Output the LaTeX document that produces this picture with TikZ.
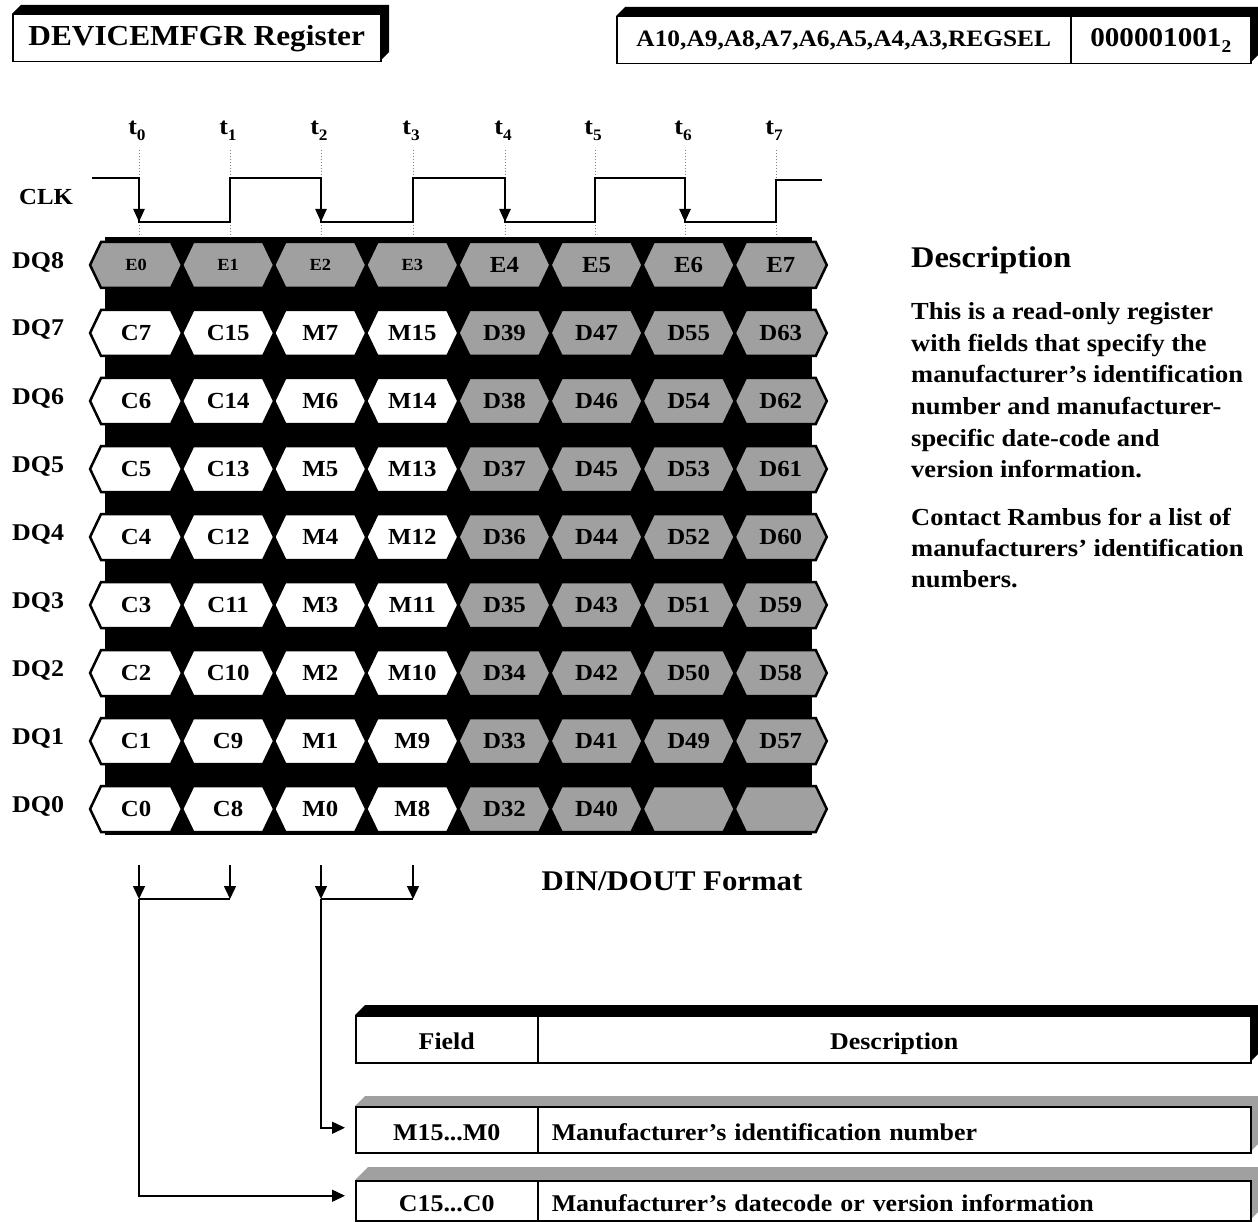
\documentclass[tikz,border=0pt]{standalone}
\usepackage{fontspec}
\setmainfont{Liberation Serif}[FakeStretch=1.08]
\usetikzlibrary{arrows.meta}
\definecolor{cellgray}{RGB}{160,160,160}
\tikzset{
  every node/.style={inner sep=0pt, font=\bfseries},
  fs/.style={font=\bfseries\fontsize{#1}{#1}\selectfont},
  box/.style={draw=black, line width=1.5pt, fill=white, anchor=north west},
  tabtext/.style={text height=22pt, text depth=1pt},
  cellborder/.style={draw=black, line width=2.5pt},
  clkline/.style={line width=2.4pt},
  clkarr/.style={line width=2.4pt, -{Triangle[width=11pt,length=13pt]}},
  arr/.style={line width=1.5pt, -{Triangle[width=12pt,length=13pt]}},
  plain/.style={line width=1.5pt},
  tick/.style={dotted, line width=1pt, gray}
}
\newcommand\slab[6]{\fill[#6] (#1,#2) -- (#1+#5,#2-#5) -- (#3+#5,#2-#5) -- (#3+#5,#4-#5) -- (#3,#4) -- (#3,#2) -- cycle;}
\begin{document}
\begin{tikzpicture}[x=1pt,y=-1pt]
\useasboundingbox[fill=white] (0,0) rectangle (1258,1222);

% ---------- header boxes
\slab{12}{14}{380}{61}{9}{black}
\node[box, minimum width=368pt, minimum height=47pt, fs=29] (title) at (12,14) {DEVICEMFGR Register};
\slab{616}{16}{1250}{63}{9}{black}
\node[box, minimum width=454pt, minimum height=47pt, fs=23.5] (addr) at (616,16) {A10,A9,A8,A7,A6,A5,A4,A3,REGSEL};
\node[box, minimum width=180pt, minimum height=47pt, fs=27] (val) at (1070,16) {000001001\raisebox{-6pt}{\fontsize{18}{18}\selectfont 2}};

% ---------- clock
\foreach \x [count=\i from 0] in {139,230,321,413,505,595,685,776} {
  \node[fs=24] (t\i) at (\x-2,131) {t\raisebox{-6pt}{\fontsize{16}{16}\selectfont\i}};
  \draw[tick] (\x,150) -- (\x,238);
}
\node[fs=23, anchor=west] (clk) at (19,197) {CLK};
\draw[clkline] (92,178) -- (139,178) -- (139,222) -- (230,222) -- (230,178) -- (321,178) -- (321,222) -- (413,222) -- (413,178) -- (505,178) -- (505,222) -- (595,222) -- (595,178) -- (685,178) -- (685,222) -- (776,222) -- (776,180) -- (822,180);
\foreach \x in {139,321,505,685} { \draw[clkarr] (\x,190) -- (\x,222); }

% ---------- data block
\fill[black] (105,237) rectangle (812,835);
\foreach \rl/\labs [count=\i from 0] in {
  8/{E0,E1,E2,E3,E4,E5,E6,E7},
  7/{C7,C15,M7,M15,D39,D47,D55,D63},
  6/{C6,C14,M6,M14,D38,D46,D54,D62},
  5/{C5,C13,M5,M13,D37,D45,D53,D61},
  4/{C4,C12,M4,M12,D36,D44,D52,D60},
  3/{C3,C11,M3,M11,D35,D43,D51,D59},
  2/{C2,C10,M2,M10,D34,D42,D50,D58},
  1/{C1,C9,M1,M9,D33,D41,D49,D57},
  0/{C0,C8,M0,M8,D32,D40,{},{}}} {
  \pgfmathsetmacro\cy{265+68*\i}
  \node[fs=24, anchor=west] (dq\rl) at (12,\cy-3) {DQ\rl};
  \foreach \lab [count=\k from 0] in \labs {
    \pgfmathsetmacro\cx{90+92.1*(\k+0.5)}
    \pgfmathtruncatemacro\isg{or(\i==0,\k>3)}
    \pgfmathtruncatemacro\issm{and(\i==0,\k<4)}
    \ifnum\isg=1 \def\cf{cellgray}\else\def\cf{white}\fi
    \ifnum\issm=1 \def\fsz{17}\else\def\fsz{23}\fi
    \draw[cellborder, fill=\cf] (\cx-46,\cy) -- (\cx-35,\cy-23) -- (\cx+35,\cy-23) -- (\cx+46,\cy) -- (\cx+35,\cy+23) -- (\cx-35,\cy+23) -- cycle;
    \node[fs=\fsz] (cell\rl-\k) at (\cx,\cy) {\lab};
  }
}

% ---------- description
\node[fs=30, anchor=base west] (deschead) at (911,268) {Description};
\foreach \txt/\yy [count=\n] in {
  This is a read-only register/312,
  with fields that specify the/344,
  manufacturer’s identification/375,
  number and manufacturer-/406,
  specific date-code and/438,
  version information./469,
  Contact Rambus for a list of/517,
  manufacturers’ identification/548,
  numbers./579} {
  \node[fs=24.5, anchor=base west] (d\n) at (911,\yy+8) {\txt};
}
\node[fs=28.5] (fmt) at (672,881) {DIN/DOUT Format};

% ---------- table
\slab{355}{1015}{1250}{1062}{10}{black}
\node[box, tabtext, minimum width=182pt, minimum height=47pt, fs=24] (fieldH) at (355,1015) {Field};
\node[box, tabtext, minimum width=713pt, minimum height=47pt, fs=24] (descH) at (537,1015) {Description};
\slab{355}{1106}{1250}{1152}{10}{cellgray}
\node[box, tabtext, minimum width=182pt, minimum height=46pt, fs=24] (fieldM) at (355,1106) {M15...M0};
\node[box, tabtext, text width=685pt, inner xsep=14pt, minimum height=46pt, align=left, fs=24] (descM) at (537,1106) {Manufacturer’s identification number};
\slab{355}{1180}{1250}{1220}{13}{cellgray}
\node[box, tabtext, minimum width=182pt, minimum height=40pt, fs=24] (fieldC) at (355,1180) {C15...C0};
\node[box, tabtext, text width=685pt, inner xsep=14pt, minimum height=40pt, align=left, fs=24] (descC) at (537,1180) {Manufacturer’s datecode or version information};

% ---------- connectors
\coordinate (a0) at (139,865); \coordinate (a1) at (230,865);
\coordinate (a2) at (321,865); \coordinate (a3) at (413,865);
\coordinate (j0) at (139,899); \coordinate (j1) at (230,899);
\coordinate (j2) at (321,899); \coordinate (j3) at (413,899);
\draw[arr] (a0) -- (j0);
\draw[arr] (a1) -- (j1);
\draw[arr] (a2) -- (j2);
\draw[arr] (a3) -- (j3);
\draw[plain] (j0) -- (j1);
\draw[plain] (j2) -- (j3);
\draw[arr] (j0) |- ([xshift=-10pt,yshift=5pt]fieldC.west);
\draw[arr] (j2) |- ([xshift=-10pt,yshift=2pt]fieldM.west);
\end{tikzpicture}
\end{document}
